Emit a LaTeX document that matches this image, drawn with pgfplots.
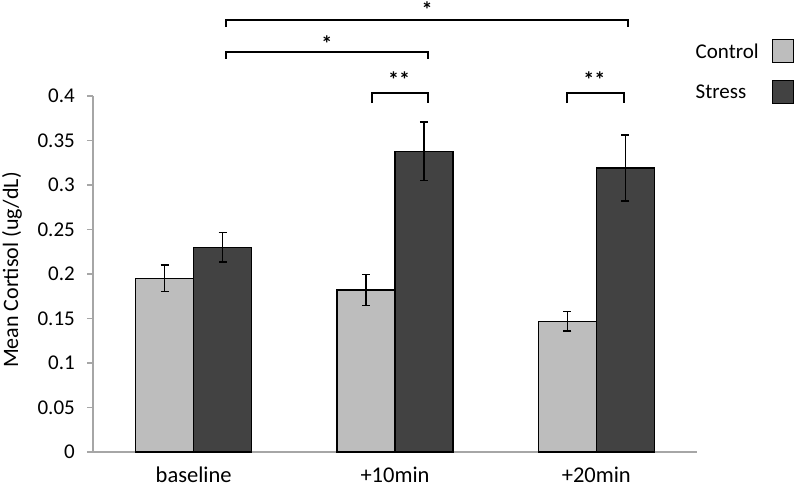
\documentclass[border=0pt]{standalone}
\usepackage{pgfplots}
\pgfplotsset{compat=1.18}
\usepackage{fontspec}
\setmainfont{Carlito}
\definecolor{ctrl}{HTML}{BDBDBD}
\definecolor{strs}{HTML}{424242}
\definecolor{axgray}{HTML}{A6A6A6}
\pgfplotsset{mylegend/.style={legend image code/.code={\draw[##1, draw=black, line width=1.3pt] (0pt,-11.5pt) rectangle (21pt,11.5pt);}}}
\begin{document}
\begin{tikzpicture}
\useasboundingbox (-93pt,-35pt) rectangle (703pt,452pt);
\begin{axis}[
  scale only axis, width=604pt, height=356pt,
  xmin=-0.5, xmax=2.5, ymin=0, ymax=0.4,
  axis lines=left,
  axis line style={-, draw=axgray, line width=1.3pt},
  ybar=0pt, bar width=58pt,
  xtick={0,1,2}, xticklabels={baseline,+10min,+20min},
  xtick style={draw=none},
  ytick={0,0.05,0.1,0.15,0.2,0.25,0.3,0.35,0.4},
  yticklabels={0,0.05,0.1,0.15,0.2,0.25,0.3,0.35,0.4},
  ytick style={draw=axgray, line width=1.3pt},
  tick align=outside, major tick length=6pt,
  font=\fontsize{21}{25}\selectfont,
  yticklabel style={anchor=east, inner sep=0pt, xshift=-12pt, font=\fontsize{21}{25}\selectfont},
  xticklabel style={anchor=base, inner sep=0pt, yshift=-25pt, font=\fontsize{22.5}{26}\selectfont},
  ylabel={Mean Cortisol (ug/dL)},
  ylabel style={at={(axis description cs:-0.134,0.511)}, anchor=center, font=\fontsize{22}{26}\selectfont},
  clip=false,
  legend style={at={(axis description cs:1.1606,1.1612)}, anchor=north east, draw=none, fill=none,
    inner sep=0pt, outer sep=0pt, row sep=17pt, column sep=13pt,
    nodes={inner sep=0pt, text depth=0pt}, font=\fontsize{21}{25}\selectfont},
  legend plot pos=right, legend cell align=left,
]
\addplot[mylegend, fill=ctrl, draw=black, line width=1.3pt,
  error bars/.cd, y dir=both, y explicit,
  error bar style={line width=1.4pt, black},
  error mark options={rotate=90, mark size=4pt, line width=1.4pt, black}]
  coordinates {(0,0.195) +- (0,0.015) (1,0.182) +- (0,0.0175) (2,0.147) +- (0,0.011)};
\addlegendentry{Control}
\addplot[mylegend, fill=strs, draw=black, line width=1.3pt,
  error bars/.cd, y dir=both, y explicit,
  error bar style={line width=1.4pt, black},
  error mark options={rotate=90, mark size=4pt, line width=1.4pt, black}]
  coordinates {(0,0.230) +- (0,0.0165) (1,0.338) +- (0,0.033) (2,0.319) +- (0,0.037)};
\addlegendentry{Stress}
% significance brackets
\draw[line width=1.5pt, black] (axis cs:0.1606,0.4775) -- (axis cs:0.1606,0.4854) -- (axis cs:2.157,0.4854) -- (axis cs:2.157,0.4775);
\draw[line width=1.5pt, black] (axis cs:0.1606,0.4416) -- (axis cs:0.1606,0.4494) -- (axis cs:1.164,0.4494) -- (axis cs:1.164,0.4416);
\draw[line width=1.5pt, black] (axis cs:0.886,0.3921) -- (axis cs:0.886,0.4034) -- (axis cs:1.164,0.4034) -- (axis cs:1.164,0.3921);
\draw[line width=1.5pt, black] (axis cs:1.854,0.3921) -- (axis cs:1.854,0.4034) -- (axis cs:2.137,0.4034) -- (axis cs:2.137,0.3921);
\node[anchor=base, inner sep=0pt, yshift=-12pt, font=\fontsize{22}{26}\selectfont\bfseries] at (axis cs:1.159,0.502) {*};
\node[anchor=base, inner sep=0pt, yshift=-12pt, font=\fontsize{22}{26}\selectfont\bfseries] at (axis cs:0.662,0.464) {*};
\node[anchor=base, inner sep=0pt, yshift=-12pt, font=\fontsize{22}{26}\selectfont\bfseries] at (axis cs:1.02,0.4225) {**};
\node[anchor=base, inner sep=0pt, yshift=-12pt, font=\fontsize{22}{26}\selectfont\bfseries] at (axis cs:1.99,0.4225) {**};
\end{axis}
\end{tikzpicture}
\end{document}
